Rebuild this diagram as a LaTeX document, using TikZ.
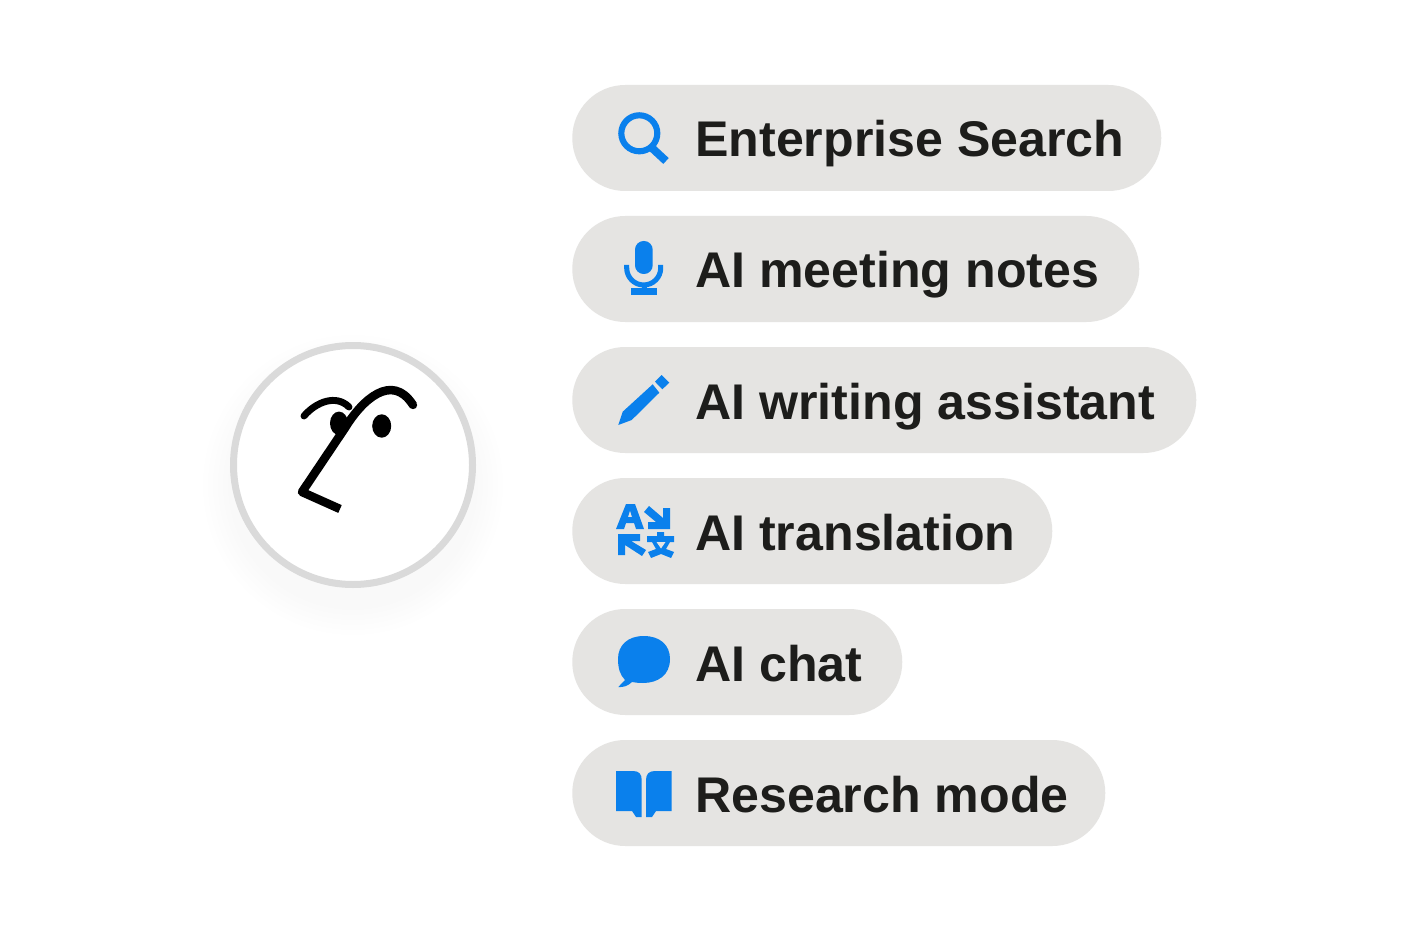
\documentclass[tikz,border=0pt]{standalone}
\usepackage{fontspec}
\setmainfont{Liberation Sans}
\usepackage{tikz}
\definecolor{pillgray}{HTML}{E5E4E2}
\definecolor{iconblue}{HTML}{0A80EC}
\definecolor{inktext}{HTML}{1D1D1B}
\definecolor{ringgray}{HTML}{DADADA}
\tikzset{
        pill/.style={fill=pillgray, rounded corners=39.7pt, minimum height=79.5pt, anchor=west, inner sep=0pt},
        pilltext/.style={anchor=base west, inner sep=0pt, text=inktext, font=\bfseries\fontsize{37.6}{38}\selectfont},
        icon/.style={fill=iconblue, draw=none},
        iconline/.style={draw=iconblue, fill=none},
        facepen/.style={draw=black, line width=5.2pt, line cap=round}
}

\begin{document}
\begin{tikzpicture}[x=0.75pt, y=-0.75pt]
        \useasboundingbox (0,0) rectangle (1401,930);
        \fill[white] (0,0) rectangle (1401,930);
        % shadow and ring
        \foreach \r in {150,145,...,125}
                \fill[black, opacity=0.0025] (353,485) circle [radius=\r];
        \node (ring) [circle, draw=ringgray, fill=white, line width=5.25pt, minimum size=179.25pt, inner sep=0pt] at (353,465) {};
        % face
        \draw[facepen] (304,416) .. controls (316,402) and (336,394) .. (349,407);
        \fill (381.7,426) ellipse [x radius=9.5, y radius=11.7];
        \fill (339,423.3) ellipse [x radius=9, y radius=11.7];
        \draw[black, line width=6.4pt, line join=round] (340,509) -- (302,492) -- (345,428) .. controls (362,400) and (392,372) .. (413,405);
        \fill[black] (413,405) circle [radius=4.2];
        % pills
        \node (p1) [pill, minimum width=441.75pt] at (572,138) {};
        \node (p2) [pill, minimum width=425.25pt] at (572,269) {};
        \node (p3) [pill, minimum width=468pt] at (572,400) {};
        \node (p4) [pill, minimum width=360pt] at (572,531) {};
        \node (p5) [pill, minimum width=247.5pt] at (572,662) {};
        \node (p6) [pill, minimum width=399.75pt] at (572,793) {};
        % labels
        \node (t1) [pilltext] at (695,157) {Enterprise Search};
        \node (t2) [pilltext] at (695,288) {AI meeting notes};
        \node (t3) [pilltext] at (695,419) {AI writing assistant};
        \node (t4) [pilltext] at (695,550) {AI translation};
        \node (t5) [pilltext] at (695,681) {AI chat};
        \node (t6) [pilltext] at (695,812) {Research mode};
        % search
        \draw[iconline, line width=4.6pt] (639.3,133.3) circle [radius=18];
        \draw[iconline, line width=6pt] (652,148) -- (666,161);
        % mic
        \fill[icon, rounded corners=6.5pt] (635,241) rectangle (652.7,274);
        \draw[iconline, line width=3.8pt] (626.7,265) -- (626.7,268) arc (180:0:17) -- (660.7,265);
        \fill[icon] (641.5,283) rectangle (646.5,290);
        \fill[icon] (630.7,288) rectangle (657.3,295);
        % pencil
        \fill[icon] (618.3,425) -- (622.7,411.7) -- (652.7,384.3) -- (659.3,392.7) -- (631.7,420) -- cycle;
        \fill[icon] (655,381.7) -- (661.7,375) -- (669.3,382.7) -- (662.3,389.3) -- cycle;
        % translate
        \fill[icon, even odd rule] (616,529) -- (626,504) -- (635,504) -- (644,529) -- (636,529) -- (634,523) -- (626,523) -- (624,529) -- cycle (628,517) -- (632,517) -- (630,510.5) -- cycle;
        \fill[icon] (663,508) -- (670,508) -- (670,529) -- (648,529) -- (648,522) -- (656,522) -- (644,512) -- (649,506) -- (663,518) -- cycle;
        \fill[icon] (625,555) -- (618,555) -- (618,534) -- (640,534) -- (640,541) -- (631,541) -- (646,550) -- (642,556) -- (625,545) -- cycle;
        \fill[icon] (647,536) -- (657,536) -- (657,532) -- (664,532) -- (664,536) -- (674,536) -- (674,542) -- (670,542) -- (666,549) -- (674,552) -- (671,558) -- (661,554) -- (651,558) -- (648,552) -- (656,549) -- (652,542) -- (647,542) -- cycle;
        \fill[pillgray] (656.5,542) -- (665.5,542) -- (661,548.5) -- cycle;
        % chat
        \fill[icon] (643.7,636) .. controls (660,636) and (670,645) .. (670,659) .. controls (670,675) and (658,683) .. (643,683) .. controls (638,683) and (635,682.5) .. (632,682) .. controls (628,686) and (623,687.5) .. (618.3,687) -- (625,680) .. controls (620,675) and (618,668) .. (618,659) .. controls (618,645) and (628,636) .. (643.7,636) -- cycle;
        % book
        \fill[icon] (616,771) -- (633,771) .. controls (639,771) and (641.7,774) .. (641.7,780) -- (641.7,817) -- (636,817) -- (632,811) -- (616,811) -- cycle;
        \fill[icon] (671.7,771) -- (655,771) .. controls (649,771) and (646,774) .. (646,780) -- (646,817) -- (652,817) -- (656,811) -- (671.7,811) -- cycle;
\end{tikzpicture}
\end{document}
